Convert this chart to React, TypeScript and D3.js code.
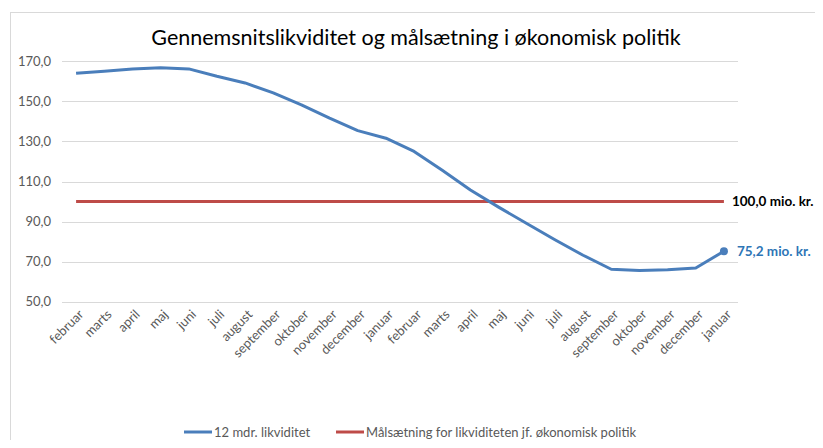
import React, { useEffect, useRef } from "react";
import * as d3 from "d3";

const months: string[] = [
  "februar", "marts", "april", "maj", "juni", "juli", "august", "september",
  "oktober", "november", "december", "januar",
  "februar", "marts", "april", "maj", "juni", "juli", "august", "september",
  "oktober", "november", "december", "januar",
];

const likviditet: number[] = [
  164.0, 165.0, 166.2, 166.8, 166.2, 162.5, 159.2, 154.2,
  148.2, 141.6, 135.4, 131.6, 125.0, 115.6, 105.8, 97.2,
  89.0, 80.9, 73.2, 66.2, 65.6, 65.9, 66.8, 75.2,
];

const maalsaetning: number[] = months.map(() => 100.0);

const yTicks: number[] = [50, 70, 90, 110, 130, 150, 170];

const title = "Gennemsnitslikviditet og målsætning i økonomisk politik";
const seriesNames = ["12 mdr. likviditet", "Målsætning for likviditeten jf. økonomisk politik"];
const endLabels = ["75,2 mio. kr.", "100,0 mio. kr."];

const BLUE = "#4a7ebb";
const RED = "#be4b48";
const FONT = "Lato, 'DejaVu Sans', sans-serif";

function App() {
  const svgRef = useRef<SVGSVGElement | null>(null);

  useEffect(() => {
    const width = 823;
    const height = 448;
    const svg = d3.select(svgRef.current);
    svg.selectAll("*").remove();

    svg.attr("width", width).attr("height", height)
      .style("font-family", FONT);

    svg.append("rect")
      .attr("x", 10.5).attr("y", 12.5)
      .attr("width", 900).attr("height", 500)
      .attr("fill", "#fff")
      .attr("stroke", "#d9d9d9");

    // scales
    const x = d3.scaleBand<number>()
      .domain(d3.range(months.length))
      .range([62, 738]);
    const cx = (i: number) => (x(i) as number) + x.bandwidth() / 2;

    const y = d3.scaleLinear().domain([50, 170]).range([301.7, 61.3]);

    // grid
    svg.append("g")
      .selectAll("line")
      .data(yTicks)
      .join("line")
      .attr("x1", 62).attr("x2", 738)
      .attr("y1", (d) => Math.round(y(d)) + 0.5)
      .attr("y2", (d) => Math.round(y(d)) + 0.5)
      .attr("stroke", "#d9d9d9")
      .attr("stroke-width", 1);

    // y labels
    svg.append("g")
      .selectAll("text")
      .data(yTicks)
      .join("text")
      .attr("x", 51)
      .attr("y", (d) => y(d))
      .attr("dy", "0.35em")
      .attr("text-anchor", "end")
      .attr("font-size", 13)
      .attr("fill", "#595959")
      .text((d) => d3.format(".1f")(d).replace(".", ","));

    // x labels
    svg.append("g")
      .selectAll("text")
      .data(months)
      .join("text")
      .attr("transform", (_d, i) => `translate(${cx(i) + 5},${312}) rotate(-45)`)
      .attr("text-anchor", "end")
      .attr("dy", "0.35em")
      .attr("font-size", 13)
      .attr("fill", "#595959")
      .text((d) => d);

    const line = d3.line<number>()
      .x((_d, i) => cx(i))
      .y((d) => y(d));

    svg.append("path")
      .attr("d", line(maalsaetning))
      .attr("fill", "none")
      .attr("stroke", RED)
      .attr("stroke-width", 3);

    svg.append("path")
      .attr("d", line(likviditet))
      .attr("fill", "none")
      .attr("stroke", BLUE)
      .attr("stroke-width", 3)
      .attr("stroke-linejoin", "round");

    const last = likviditet.length - 1;
    svg.append("circle")
      .attr("cx", cx(last))
      .attr("cy", y(likviditet[last]))
      .attr("r", 4)
      .attr("fill", BLUE);

    svg.append("text")
      .attr("x", cx(last) + 13)
      .attr("y", y(likviditet[last]))
      .attr("dy", "0.35em")
      .attr("font-size", 13.5)
      .attr("font-weight", "bold")
      .attr("fill", "#2e75b6")
      .text(endLabels[0]);

    svg.append("text")
      .attr("x", cx(last) + 8)
      .attr("y", y(maalsaetning[last]))
      .attr("dy", "0.35em")
      .attr("font-size", 13.5)
      .attr("font-weight", "bold")
      .attr("fill", "#000")
      .text(endLabels[1]);

    // title
    svg.append("text")
      .attr("x", 416)
      .attr("y", 45)
      .attr("text-anchor", "middle")
      .attr("font-size", 21.5)
      .attr("fill", "#000")
      .text(title);

    // legend
    const legend = svg.append("g").attr("transform", "translate(0,432)");
    const items = [
      { name: seriesNames[0], color: BLUE, x0: 184 },
      { name: seriesNames[1], color: RED, x0: 336 },
    ];
    items.forEach((it) => {
      legend.append("line")
        .attr("x1", it.x0).attr("x2", it.x0 + 28)
        .attr("y1", 0).attr("y2", 0)
        .attr("stroke", it.color)
        .attr("stroke-width", 3);
      legend.append("text")
        .attr("x", it.x0 + 30)
        .attr("y", 0)
        .attr("dy", "0.35em")
        .attr("font-size", 13)
        .attr("fill", "#595959")
        .text(it.name);
    });
  }, []);

  return (
    <div style={{ margin: -8 }}>
      <svg ref={svgRef} style={{ display: "block" }} />
    </div>
  );
}

export default App;
